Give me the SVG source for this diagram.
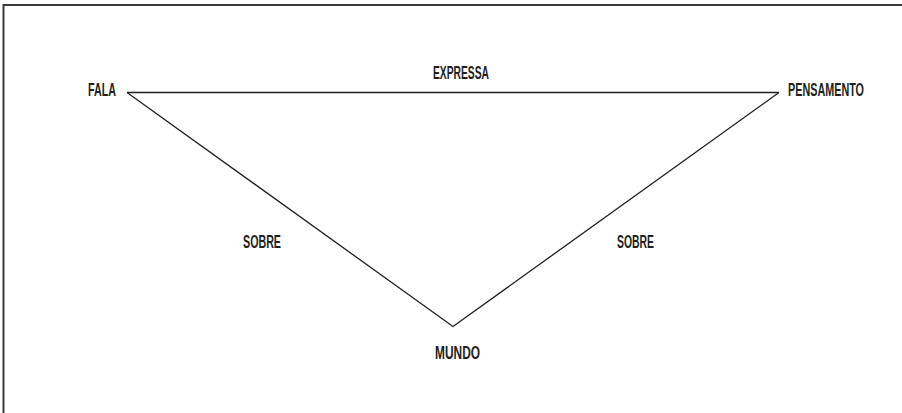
<svg xmlns="http://www.w3.org/2000/svg" width="902" height="413" viewBox="0 0 902 413">
<style>
.lbl{font-family:"Liberation Sans","DejaVu Sans",sans-serif;font-weight:bold;font-size:18px;fill:#231f20}
.edge{stroke:#231f20;stroke-width:1.3;fill:none}
.frame{stroke:#3a3a3a;stroke-width:2;fill:none}
</style>
<rect width="902" height="413" fill="#fff"/>
<path class="frame" d="M3.5 413 V5 H902"/>
<g id="connectors">
<path class="edge" d="M127 92.5 H779"/>
<path class="edge" d="M127 92.5 L453 326.5 L779 92.5"/>
</g>
<g id="fala"><text class="lbl" x="88" y="96" textLength="28" lengthAdjust="spacingAndGlyphs">FALA</text></g>
<g id="pensamento"><text class="lbl" x="788" y="96" textLength="76" lengthAdjust="spacingAndGlyphs">PENSAMENTO</text></g>
<g id="mundo"><text class="lbl" x="435" y="359" textLength="45" lengthAdjust="spacingAndGlyphs">MUNDO</text></g>
<g id="label-expressa"><text class="lbl" x="433" y="79" textLength="56" lengthAdjust="spacingAndGlyphs">EXPRESSA</text></g>
<g id="label-sobre-1"><text class="lbl" x="243" y="248" textLength="38" lengthAdjust="spacingAndGlyphs">SOBRE</text></g>
<g id="label-sobre-2"><text class="lbl" x="617" y="248" textLength="37" lengthAdjust="spacingAndGlyphs">SOBRE</text></g>
</svg>
